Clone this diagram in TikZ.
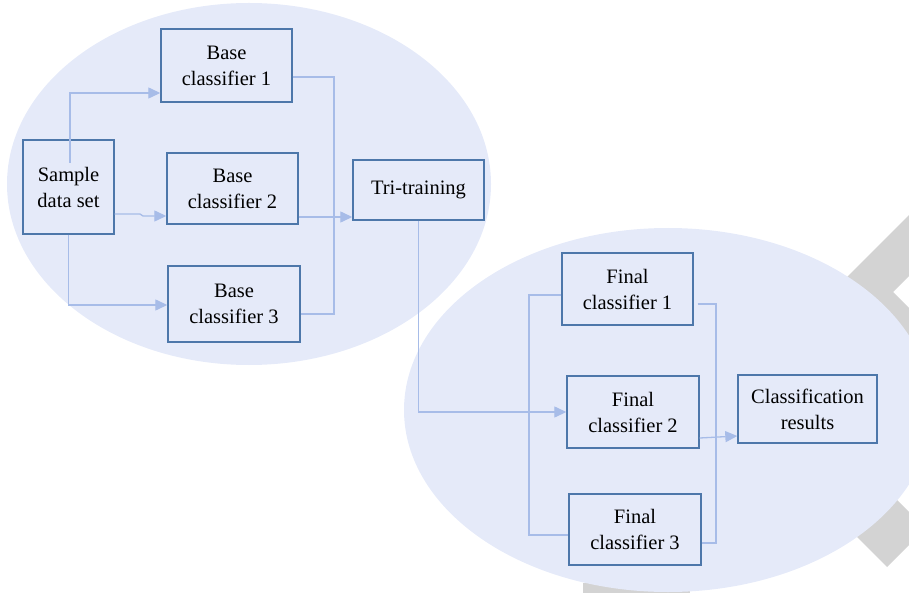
\documentclass[tikz,border=0pt]{standalone}
\usepackage{fontspec}
\setmainfont{Liberation Serif}
\usetikzlibrary{arrows.meta}

\definecolor{panelfill}{HTML}{E5EAF9}
\definecolor{boxline}{HTML}{4D77AA}
\definecolor{linkline}{HTML}{A7BCE8}
\definecolor{markgray}{HTML}{D3D3D3}

\tikzset{
  stage/.style={draw=boxline, line width=1.4pt, fill=panelfill, align=center,
    inner sep=0pt, font=\fontsize{20.5}{26}\selectfont},
  conn/.style={draw=linkline, line width=1.3pt},
  arr/.style={conn, -{Triangle[length=12pt,width=11pt]}},
}

\begin{document}
\begin{tikzpicture}[x=1pt,y=-1pt]
\useasboundingbox (0,0) rectangle (909,593);
\begin{scope}
\clip (0,0) rectangle (909,593);
% grey chevron strokes in the background
\fill[markgray] (935,189) -- (832,292) -- (935,395) -- (935,334) -- (893,292) -- (935,250) -- cycle;
\fill[markgray] (810,490) -- (887,567) -- (925.5,528.5) -- (848.5,451.5) -- cycle;
\fill[markgray] (583,583) rectangle (690,600);
% the two panels
\fill[panelfill] (249,184) ellipse [x radius=242, y radius=181];
\fill[panelfill] (668,410) ellipse [x radius=264, y radius=182];
\end{scope}

% training stage
\node[stage, minimum width=91pt, minimum height=94pt] (sample) at (68.5,187) {Sample\\data set};
\node[stage, minimum width=131pt, minimum height=73pt] (bc1) at (226.5,65.5) {Base\\classifier 1};
\node[stage, minimum width=131pt, minimum height=71pt] (bc2) at (232.5,188.5) {Base\\classifier 2};
\node[stage, minimum width=132pt, minimum height=76pt] (bc3) at (234,304) {Base\\classifier 3};
\node[stage, minimum width=131pt, minimum height=60pt] (tri) at (418.5,190) {Tri-training};

% classification stage
\node[stage, minimum width=131pt, minimum height=72pt] (fc1) at (627.5,289) {Final\\classifier 1};
\node[stage, minimum width=132pt, minimum height=72pt] (fc2) at (633,412) {Final\\classifier 2};
\node[stage, minimum width=132pt, minimum height=71pt] (fc3) at (635,529.5) {Final\\classifier 3};
\node[stage, minimum width=139pt, minimum height=68pt] (cr) at (807.5,409) {Classification\\results};

% junction points of the connectors
\coordinate (s1) at (70,163);
\coordinate (j1) at (334,77);
\coordinate (j3) at (334,314);
\coordinate (k1) at (529,295);
\coordinate (k3) at (529,535);
\coordinate (m1) at (716,304);
\coordinate (m3) at (716,543);

% connectors, training stage
\draw[arr] (s1) |- (bc1.west |- 0,93);
\draw[arr] (sample.east |- 0,214) -- (140,214) -- (143,216) -- (bc2.west |- 0,216);
\draw[arr] (sample.south) |- (bc3.west |- 0,305);
\draw[conn] (bc1.east |- 0,77) -- (j1) -- (j3) -- (bc3.east |- 0,314);
\draw[arr] (bc2.east |- 0,217) -- (tri.west |- 0,217);

% connectors, classification stage
\draw[arr] (tri.south) |- (fc2.west |- 0,412);
\draw[conn] (fc1.west |- 0,295) -- (k1) -- (k3) -- (fc3.west |- 0,535);
\draw[conn] ([xshift=4pt]fc1.east |- 0,304) -- (m1) -- (m3) -- (fc3.east |- 0,543);
\draw[arr] (fc2.east |- 0,438) -- (cr.west |- 0,436);
\end{tikzpicture}
\end{document}
